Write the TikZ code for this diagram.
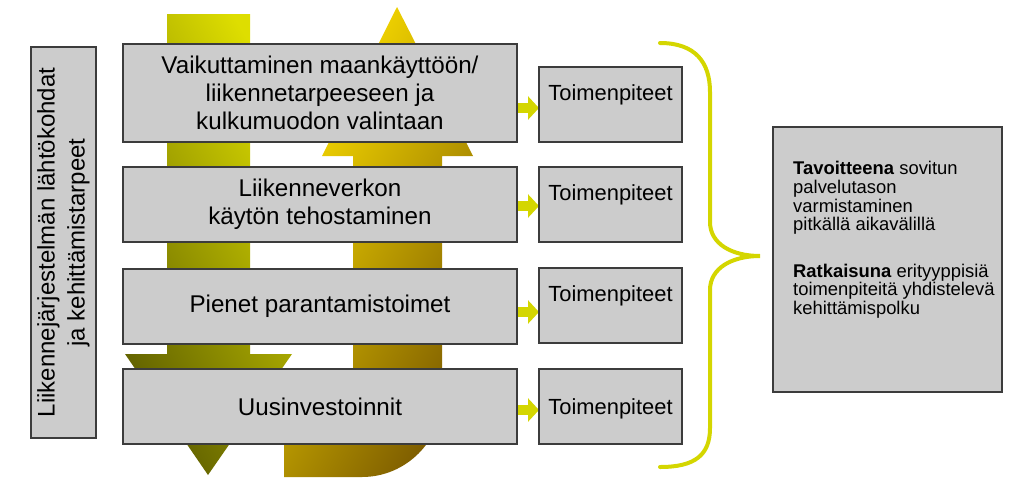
\documentclass[tikz,border=0pt]{standalone}
\usepackage{fontspec}
\setmainfont{Liberation Sans}
\usetikzlibrary{arrows.meta,backgrounds}
\definecolor{boxgray}{RGB}{204,204,204}
\definecolor{edgegray}{RGB}{60,60,60}
\definecolor{limeyellow}{RGB}{212,214,0}
\definecolor{olivedark}{RGB}{96,96,0}
\definecolor{olivelight}{RGB}{222,222,0}
\definecolor{golddark}{RGB}{125,92,0}
\definecolor{goldlight}{RGB}{255,226,0}
\begin{document}
\begin{tikzpicture}[x=1pt,y=-1pt,
    box/.style={draw=edgegray, line width=1.2pt, fill=boxgray, outer sep=0pt, inner sep=2pt, align=center, text=black},
    stagebox/.style={box, anchor=north west, minimum width=394pt, minimum height=75pt, font=\fontsize{24.2}{28.3}\selectfont},
    actionbox/.style={box, anchor=north west, minimum width=143pt, minimum height=75pt, font=\fontsize{21.9}{25}\selectfont},
    actionlabel/.style={label={[anchor=north, inner sep=0pt, yshift=-17pt, font=\fontsize{21.9}{25}\selectfont]north:Toimenpiteet}},
    feedarrow/.style={draw=limeyellow, line width=10pt, -{Triangle[width=23pt, length=11pt]}},
    brace/.style={draw=limeyellow, line width=4pt, line cap=round}]
    \useasboundingbox (0,0) rectangle (1024,493);

    % big arrows behind the boxes
    \shade[top color=olivedark, bottom color=olivelight, shading angle=120]
        (167,14) -- (250,14) -- (250,354) -- (292,354) -- (208,475) -- (125,354) -- (167,354) -- cycle;
    \shade[top color=goldlight, bottom color=golddark, shading angle=60]
        (397,7) -- (473,156) -- (442,156) -- (442,397) .. controls (442,441) and (406,477) .. (362,477)
        -- (284,477) -- (284,390) -- (353,390) -- (353,156) -- (322,156) -- cycle;

    \node[box, rotate=90, minimum width=391pt, minimum height=65pt, font=\fontsize{24}{30}\selectfont] (origin) at (63.5,242.5)
        {Liikennejärjestelmän lähtökohdat\\ja kehittämistarpeet};

    \node[stagebox, minimum height=98pt] (s1) at (123,44) {Vaikuttaminen maankäyttöön/\\liikennetarpeeseen ja\\kulkumuodon valintaan};
    \node[stagebox] (s2) at (123,167) {Liikenneverkon\\käytön tehostaminen};
    \node[stagebox] (s3) at (123,269) {Pienet parantamistoimet};
    \node[stagebox] (s4) at (123,369) {Uusinvestoinnit};

    \node[actionbox, actionlabel] (a1) at (539,67) {};
    \node[actionbox, actionlabel] (a2) at (539,167) {};
    \node[actionbox, actionlabel] (a3) at (539,268) {};
    \node[actionbox, text depth=0pt] (a4) at (539,369) {Toimenpiteet};

    \begin{scope}[on background layer]
        \foreach \i/\dy in {1/-3.5, 2/-1.5, 3/-6.5, 4/-3.5}
            \draw[feedarrow] ([xshift=-16pt, yshift=\dy pt]a\i.west -| s\i.east) -- ([yshift=\dy pt]a\i.west);
    \end{scope}

    \draw[brace] (660,43) .. controls (695,43) and (710,62) .. (710,92) -- (710,222)
        .. controls (710,244) and (732,256) .. (760,256) .. controls (732,256) and (710,268) .. (710,290)
        -- (710,428) .. controls (710,455) and (695,467) .. (660,467);

    \node[box, anchor=north west, minimum width=229pt, minimum height=265pt] (goal) at (773,127) {};
    \node[anchor=north west, align=left, inner sep=0pt, font=\fontsize{18.4}{18.8}\selectfont] (goaltext)
        at ([xshift=20pt, yshift=-34pt]goal.north west)
        {\textbf{Tavoitteena} sovitun\\palvelutason\\varmistaminen\\pitkällä aikavälillä\\[27.3pt]%
         \textbf{Ratkaisuna} erityyppisiä\\toimenpiteitä yhdistelevä\\kehittämispolku};
\end{tikzpicture}
\end{document}
